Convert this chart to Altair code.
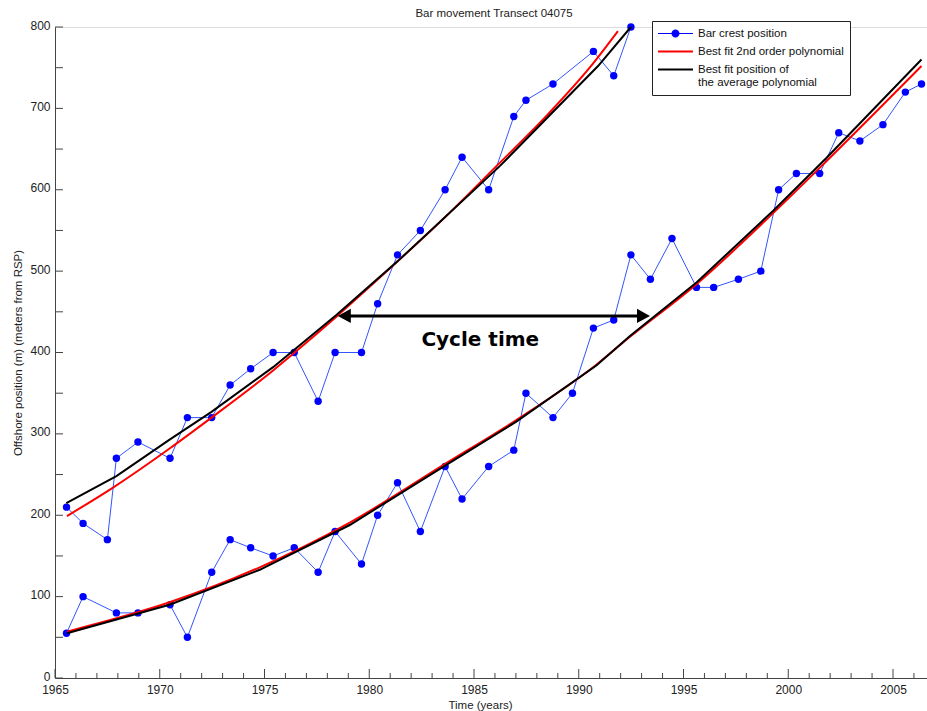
import altair as alt
import pandas as pd

# ---------------- data ----------------
series_names = ["Bar crest position", "Best fit 2nd order polynomial",
                "Best fit position of the average polynomial"]

# outer bar (upper track)
bar1_years = [1965.55, 1966.34, 1967.50, 1967.93, 1968.96, 1970.49, 1971.32, 1972.48,
              1973.36, 1974.34, 1975.41, 1976.42, 1977.56, 1978.37, 1979.63, 1980.40,
              1981.35, 1982.44, 1983.62, 1984.43, 1985.70, 1986.90, 1987.48, 1988.77,
              1990.70, 1991.67, 1992.49]
bar1_pos = [210, 190, 170, 270, 290, 270, 320, 320, 360, 380, 400, 400, 340, 400, 400, 460,
            520, 550, 600, 640, 600, 690, 710, 730, 770, 740, 800]

# inner bar (lower track)
bar2_years = [1965.55, 1966.34, 1967.93, 1968.96, 1970.49, 1971.32, 1972.48, 1973.36,
              1974.34, 1975.41, 1976.42, 1977.56, 1978.37, 1979.63, 1980.40, 1981.35,
              1982.44, 1983.62, 1984.43, 1985.70, 1986.90, 1987.48, 1988.77, 1989.70,
              1990.70, 1991.67, 1992.49, 1993.42, 1994.45, 1995.62, 1996.44, 1997.62,
              1998.69, 1999.54, 2000.39, 2001.50, 2002.41, 2003.42, 2004.52, 2005.59,
              2006.36]
bar2_pos = [55, 100, 80, 80, 90, 50, 130, 170, 160, 150, 160, 130, 180, 140, 200, 240,
            180, 260, 220, 260, 280, 350, 320, 350, 430, 440, 520, 490, 540, 480, 480, 490,
            500, 600, 620, 620, 670, 660, 680, 720, 730]

# best fit 2nd order polynomial (red)
red1_years = [1965.57, 1967.77, 1970.47, 1972.47, 1975.41, 1976.44, 1978.43, 1979.86,
              1981.35, 1983.00, 1986.07, 1988.50, 1990.52, 1991.87]
red1_pos = [199, 234, 282, 320, 378, 400, 444, 477, 512, 551, 629, 692, 750, 795]
red2_years = [1965.57, 1970.47, 1974.77, 1979.07, 1983.68, 1987.02, 1990.84, 1992.43,
              1995.62, 1999.27, 2001.82, 2006.36]
red2_pos = [57, 93, 136, 191, 264, 317, 385, 419, 484, 571, 635, 752]

# best fit position of the average polynomial (black)
blk1_years = [1965.54, 1967.93, 1970.47, 1972.47, 1975.41, 1978.43, 1981.35, 1986.23,
              1990.92, 1992.49]
blk1_pos = [215, 248, 293, 327, 382, 446, 512, 629, 752, 800]
blk2_years = [1965.57, 1970.47, 1974.77, 1979.07, 1983.68, 1987.02, 1990.84, 1992.43,
              1995.62, 1999.27, 2001.82, 2006.36]
blk2_pos = [55, 90, 133, 188, 262, 315, 384, 420, 486, 574, 639, 760]

# cycle-time arrow and label
arrow_tip_years = [1978.5, 1993.4]
arrow_shaft_years = [1978.9, 1993.0]
arrow_pos = 445
label_year = 1985.3
label_pos = 408
label_text = "Cycle time"

# axes
x_label_values = [1965, 1970, 1975, 1980, 1985, 1990, 1995, 2000, 2005]
x_minor_values = [y for y in range(1966, 2007) if y % 5 != 0]
y_label_values = [0, 100, 200, 300, 400, 500, 600, 700, 800]
y_minor_values = [50, 150, 250, 350, 450, 550, 650, 750]

# ---------------- frames ----------------
crest = pd.concat([
    pd.DataFrame({"year": bar1_years, "pos": bar1_pos, "bar": "bar 1"}),
    pd.DataFrame({"year": bar2_years, "pos": bar2_pos, "bar": "bar 2"}),
])
crest["series"] = series_names[0]
red = pd.concat([
    pd.DataFrame({"year": red1_years, "pos": red1_pos, "bar": "bar 1"}),
    pd.DataFrame({"year": red2_years, "pos": red2_pos, "bar": "bar 2"}),
])
red["series"] = series_names[1]
blk = pd.concat([
    pd.DataFrame({"year": blk1_years, "pos": blk1_pos, "bar": "bar 1"}),
    pd.DataFrame({"year": blk2_years, "pos": blk2_pos, "bar": "bar 2"}),
])
blk["series"] = series_names[2]
all_series = pd.concat([crest, red, blk])

W, H = 872, 651
FONT = "Liberation Sans"
AX = "#444444"

X = alt.X("year:Q",
          scale=alt.Scale(domain=[1965, 1965 + W / 20.95], nice=False, zero=False),
          axis=alt.Axis(values=x_label_values, format="d", ticks=False, grid=False,
                        domainColor=AX, labelColor="#222", labelFont=FONT, labelFontSize=12,
                        labelPadding=6, labelFlush=False, labelOverlap=False,
                        title="Time (years)", titleFont=FONT, titleFontSize=11.5,
                        titleFontWeight="normal", titleColor="#222", titlePadding=4,
                        titleX=425))
Y = alt.Y("pos:Q",
          scale=alt.Scale(domain=[0, 800], nice=False),
          axis=alt.Axis(values=y_label_values, ticks=False, grid=False, domainColor=AX,
                        labelColor="#222", labelFont=FONT, labelFontSize=12, labelPadding=5,
                        labelFlush=False, labelOverlap=False, labelOffset=-2,
                        title="Offshore position (m) (meters from RSP)", titleFont=FONT,
                        titleFontSize=11.5, titleFontWeight="normal", titleColor="#222",
                        titlePadding=6))

crest_path = ("M-1,-0.08L4.38,-0.08L4.38,0.08L-1,0.08Z "
              "M2.31,0A0.62,0.62 0 1,1 1.07,0A0.62,0.62 0 1,1 2.31,0Z")
line_path = "M-1,-0.16L4.38,-0.16L4.38,0.16L-1,0.16Z"

legend = alt.Legend(
    title=None, orient="none", legendX=597, legendY=-6, direction="vertical",
    fillColor="white", strokeColor="#222", padding=6, symbolSize=169, symbolOpacity=1,
    symbolStrokeWidth=0, labelOffset=27, labelFont=FONT, labelFontSize=11.5,
    labelColor="#111", labelLimit=400, rowPadding=6,
    labelExpr=("datum.label === 'Best fit position of the average polynomial' ? "
               "['Best fit position of', 'the average polynomial'] : datum.label"))

legend_layer = alt.Chart(all_series).mark_point(opacity=0, filled=True).encode(
    x=X, y=Y,
    color=alt.Color("series:N", scale=alt.Scale(domain=series_names,
                                                range=["#0000ff", "#ff0000", "#000000"]),
                    legend=legend),
    shape=alt.Shape("series:N", scale=alt.Scale(domain=series_names,
                                                range=[crest_path, line_path, line_path]),
                    legend=legend),
)

crest_line = alt.Chart(crest).mark_line(color="#3355ff", strokeWidth=1).encode(
    x=X, y=Y, detail="bar:N")
crest_pts = alt.Chart(crest).mark_point(filled=True, color="#0000ff", size=55, opacity=1,
                                        shape="circle").encode(x=X, y=Y)
red_line = alt.Chart(red).mark_line(color="#ff0000", strokeWidth=2,
                                    interpolate="monotone").encode(x=X, y=Y, detail="bar:N")
blk_line = alt.Chart(blk).mark_line(color="#000000", strokeWidth=2).encode(
    x=X, y=Y, detail="bar:N")

shaft_df = pd.DataFrame({"year": [arrow_shaft_years[0]], "year2": [arrow_shaft_years[1]],
                         "pos": [arrow_pos]})
shaft = alt.Chart(shaft_df).mark_rule(color="black", strokeWidth=3).encode(
    x=X, x2="year2:Q", y=Y)
head_l = alt.Chart(pd.DataFrame({"year": [arrow_tip_years[0]], "pos": [arrow_pos]})).mark_point(
    shape="M0,0L2,-1.08L2,1.08Z", filled=True, color="black", size=169, opacity=1).encode(x=X, y=Y)
head_r = alt.Chart(pd.DataFrame({"year": [arrow_tip_years[1]], "pos": [arrow_pos]})).mark_point(
    shape="M0,0L-2,-1.08L-2,1.08Z", filled=True, color="black", size=169, opacity=1).encode(x=X, y=Y)
label = alt.Chart(pd.DataFrame({"year": [label_year], "pos": [label_pos],
                                "t": [label_text]})).mark_text(
    font="DejaVu Sans", fontWeight="bold", fontSize=20, color="black", align="center",
    baseline="alphabetic").encode(x=X, y=Y, text="t:N")

xmaj = alt.Chart(pd.DataFrame({"year": x_label_values})).mark_rule(color=AX).encode(
    x=X, y=alt.value(H), y2=alt.value(H - 9))
xmin = alt.Chart(pd.DataFrame({"year": x_minor_values})).mark_rule(color=AX).encode(
    x=X, y=alt.value(H), y2=alt.value(H - 5))
ymaj = alt.Chart(pd.DataFrame({"pos": y_label_values})).mark_rule(color=AX).encode(
    y=Y, x=alt.value(0), x2=alt.value(8))
ymin = alt.Chart(pd.DataFrame({"pos": y_minor_values})).mark_rule(color=AX).encode(
    y=Y, x=alt.value(0), x2=alt.value(8))

chart = alt.layer(
    legend_layer, xmaj, xmin, ymaj, ymin, crest_line, crest_pts, red_line, blk_line,
    shaft, head_l, head_r, label,
).properties(
    width=W, height=H,
    title=alt.TitleParams("Bar movement Transect 04075", font=FONT, fontSize=11.5,
                          fontWeight="normal", color="#222", anchor="middle", frame="group",
                          offset=0, dx=3),
    padding={"left": 55, "top": 27, "right": 0, "bottom": 33},
    autosize=alt.AutoSizeParams(type="none"),
).configure_view(stroke=None).configure(background="white")

chart.save("out.html", embed_options={"renderer": "svg", "actions": False})
